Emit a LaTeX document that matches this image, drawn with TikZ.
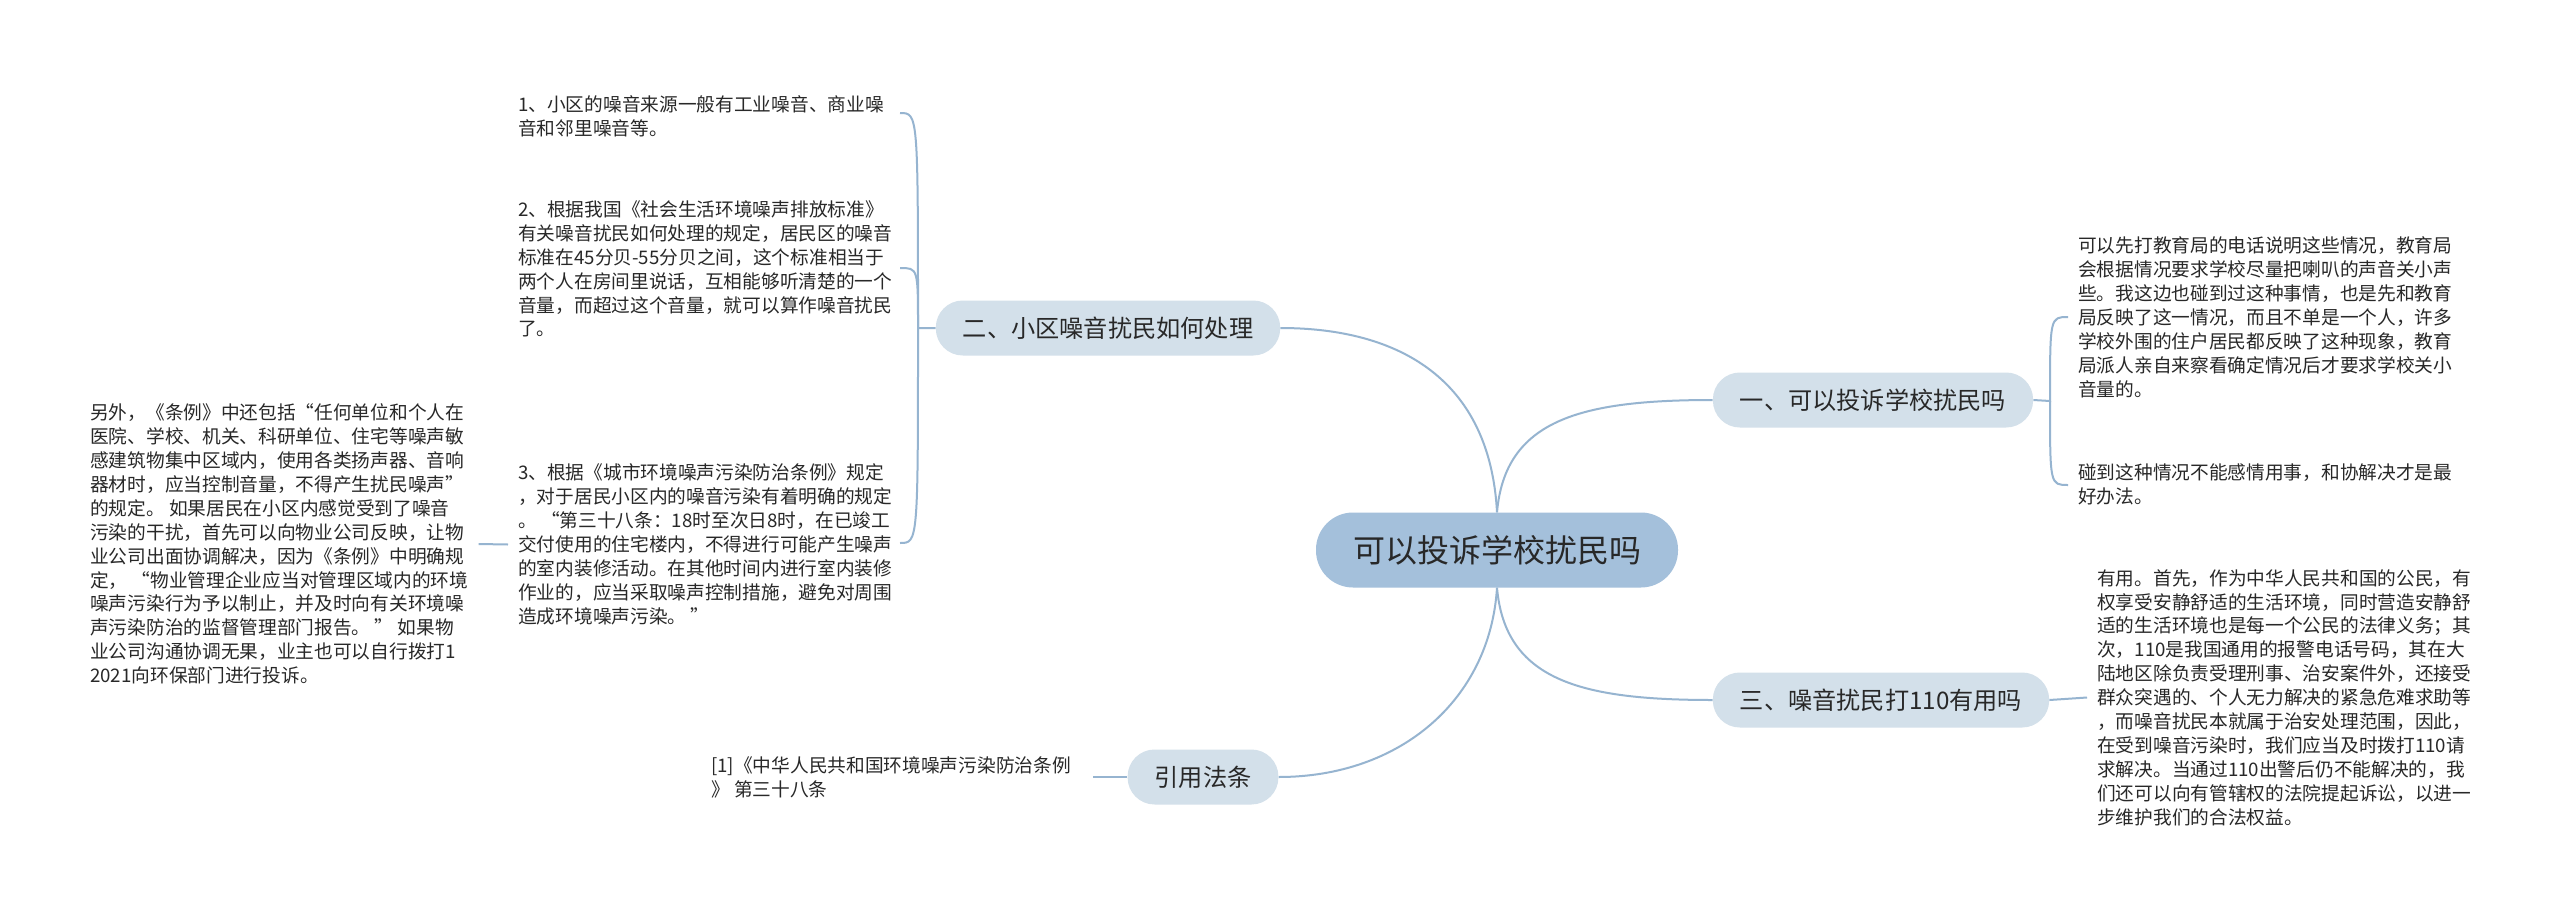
\documentclass[tikz,border=0pt]{standalone}
\usepackage{fontspec}
\setmainfont{Noto Sans CJK SC}
\usepackage{tikz}
\usetikzlibrary{backgrounds}
\usepackage{xcolor}
\definecolor{lineblue}{RGB}{150,180,208}
\definecolor{rootfill}{RGB}{164,192,219}
\definecolor{topicfill}{RGB}{211,224,234}
\definecolor{inkgray}{RGB}{40,40,40}

\begin{document}
\begin{tikzpicture}[x=1pt, y=-1pt,
    root/.style={fill=rootfill, rounded corners=37pt, minimum height=75pt, inner xsep=37pt, inner ysep=0pt, font=\fontsize{32}{36}\selectfont, text=inkgray},
    topic/.style={fill=topicfill, rounded corners=27pt, minimum height=55pt, inner xsep=27pt, inner ysep=0pt, font=\fontsize{24.2}{28}\selectfont, text=inkgray},
    leaf/.style={anchor=west, align=left, inner sep=0pt, font=\fontsize{18.7}{23.9}\selectfont, text=inkgray},
    link/.style={draw=lineblue, line width=2pt}]
        \useasboundingbox (0,0) rectangle (2560,921);

        % Define the nodes
        \node[root] (root) at (1497,550) {可以投诉学校扰民吗};
        \node[topic] (two) at (1108,328) {二、小区噪音扰民如何处理};
        \node[topic] (one) at (1873,400) {一、可以投诉学校扰民吗};
        \node[topic] (three) at (1881,700) {三、噪音扰民打110有用吗};
        \node[topic] (cite) at (1203,777) {引用法条};

        \node[leaf] (b1) at (518,116.5) {1、小区的噪音来源一般有工业噪音、商业噪\\
音和邻里噪音等。};
        \node[leaf] (b2) at (518,269) {2、根据我国《社会生活环境噪声排放标准》\\
有关噪音扰民如何处理的规定，居民区的噪音\\
标准在45分贝-55分贝之间，这个标准相当于\\
两个人在房间里说话，互相能够听清楚的一个\\
音量，而超过这个音量，就可以算作噪音扰民\\
了。};
        \node[leaf] (b3) at (518,544.5) {3、根据《城市环境噪声污染防治条例》规定\\
，对于居民小区内的噪音污染有着明确的规定\\
。 “第三十八条：18时至次日8时，在已竣工\\
交付使用的住宅楼内，不得进行可能产生噪声\\
的室内装修活动。在其他时间内进行室内装修\\
作业的，应当采取噪声控制措施，避免对周围\\
造成环境噪声污染。 ”};
        \node[leaf] (b0) at (90,544) {另外，《条例》中还包括“任何单位和个人在\\
医院、学校、机关、科研单位、住宅等噪声敏\\
感建筑物集中区域内，使用各类扬声器、音响\\
器材时，应当控制音量，不得产生扰民噪声”\\
的规定。 如果居民在小区内感觉受到了噪音\\
污染的干扰，首先可以向物业公司反映，让物\\
业公司出面协调解决，因为《条例》中明确规\\
定， “物业管理企业应当对管理区域内的环境\\
噪声污染行为予以制止，并及时向有关环境噪\\
声污染防治的监督管理部门报告。 ” 如果物\\
业公司沟通协调无果，业主也可以自行拨打1\\
2021向环保部门进行投诉。};
        \node[leaf] (r1) at (2078,317.5) {可以先打教育局的电话说明这些情况，教育局\\
会根据情况要求学校尽量把喇叭的声音关小声\\
些。我这边也碰到过这种事情，也是先和教育\\
局反映了这一情况，而且不单是一个人，许多\\
学校外围的住户居民都反映了这种现象，教育\\
局派人亲自来察看确定情况后才要求学校关小\\
音量的。};
        \node[leaf] (r2) at (2078,484.5) {碰到这种情况不能感情用事，和协解决才是最\\
好办法。};
        \node[leaf] (r3) at (2097,697.5) {有用。首先，作为中华人民共和国的公民，有\\
权享受安静舒适的生活环境，同时营造安静舒\\
适的生活环境也是每一个公民的法律义务；其\\
次，110是我国通用的报警电话号码，其在大\\
陆地区除负责受理刑事、治安案件外，还接受\\
群众突遇的、个人无力解决的紧急危难求助等\\
，而噪音扰民本就属于治安处理范围，因此，\\
在受到噪音污染时，我们应当及时拨打110请\\
求解决。当通过110出警后仍不能解决的，我\\
们还可以向有管辖权的法院提起诉讼，以进一\\
步维护我们的合法权益。};
        \node[leaf] (ref) at (711,777) {[1]《中华人民共和国环境噪声污染防治条例\\
》 第三十八条};

        % fork points and tips
        \coordinate (lfork) at (918,328);
        \coordinate (b1tip) at (900,113);
        \coordinate (b2tip) at (900,268);
        \coordinate (b3tip) at (900,543);
        \coordinate (rfork) at (2050,401);
        \coordinate (r1tip) at (2068,317);
        \coordinate (r2tip) at (2068,485);

        \begin{scope}[on background layer]
        \fill[white] (0,0) rectangle (2560,921);
        \draw[link] (root.north) .. controls (1490,380) and (1400,328) .. (two.east);
        \draw[link] (root.north) .. controls (1505,420) and (1580,400) .. (one.west);
        \draw[link] (root.south) .. controls (1490,700) and (1400,777) .. (cite.east);
        \draw[link] (root.south) .. controls (1505,680) and (1580,700) .. (three.west);

        \draw[link] (two.west) -- (lfork) .. controls (918,113) .. (b1tip);
        \draw[link] (lfork) .. controls (918,268) .. (b2tip);
        \draw[link] (lfork) .. controls (918,543) .. (b3tip);
        \draw[link] ([xshift=-10pt]b3.west) -- ([xshift=10pt]b0.east);

        \draw[link] (one.east) -- (rfork) .. controls (2050,317) .. (r1tip);
        \draw[link] (rfork) .. controls (2050,485) .. (r2tip);
        \draw[link] (three.east) -- ([xshift=-10pt]r3.west);
        \draw[link] (cite.west) -- ([xshift=22pt]ref.east);
        \end{scope}
    \end{tikzpicture}
\end{document}
